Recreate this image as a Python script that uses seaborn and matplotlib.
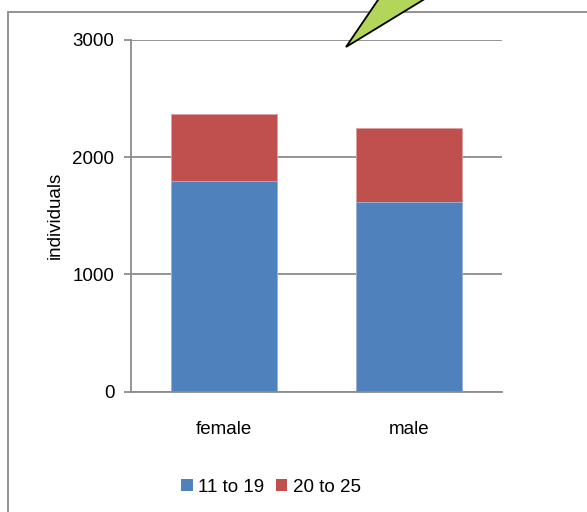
import matplotlib
matplotlib.use("Agg")
import matplotlib.pyplot as plt
import seaborn as sns
import pandas as pd
from matplotlib.patches import Patch, Polygon, Rectangle

# Data: individuals by sex and age group
categories = ["female", "male"]
age_11_19 = [1800, 1620]
age_20_25 = [564, 628]
series_names = ["11 to 19", "20 to 25"]
y_ticks = [0, 1000, 2000, 3000]

BLUE = "#4F81BD"
RED = "#C0504D"
GRID = "#8C8C8C"
FS = 13.5

sns.set_theme(style="white")
plt.rcParams["font.family"] = ["Liberation Sans", "DejaVu Sans"]
plt.rcParams["text.color"] = "black"
plt.rcParams["axes.labelcolor"] = "black"
plt.rcParams["xtick.color"] = "black"
plt.rcParams["ytick.color"] = "black"

W, H = 587, 512
fig = plt.figure(figsize=(W / 100, H / 100), dpi=100)

# outer chart-area frame (continues past the right and bottom edge)
fig.patches.append(Rectangle((8 / W, -0.1), 1.2, 1 - 12 / H + 0.1,
                             transform=fig.transFigure, fill=False,
                             edgecolor="#8A8A8A", linewidth=1.3))

ax = fig.add_axes([131 / W, (H - 391.7) / H, 371 / W, 352 / H])

df = pd.DataFrame({
    "sex": categories,
    "young": age_11_19,
    "total": [a + b for a, b in zip(age_11_19, age_20_25)],
})

# stacked bars: full total in red, lower segment in blue on top
sns.barplot(data=df, x="sex", y="total", color=RED, saturation=1,
            width=0.57, ax=ax, edgecolor="#D9A09E", linewidth=0.6)
sns.barplot(data=df, x="sex", y="young", color=BLUE, saturation=1,
            width=0.57, ax=ax, edgecolor="#9DB7DA", linewidth=0.6)

ax.set_ylim(0, 3000)
ax.set_xlim(-0.5, 1.5)
ax.set_yticks(y_ticks)
ax.set_yticklabels([str(t) for t in y_ticks], fontsize=FS)
ax.yaxis.grid(True, color=GRID, linewidth=1.3)
ax.set_axisbelow(True)
for s in ["top", "right"]:
    ax.spines[s].set_visible(False)
ax.spines["left"].set_color(GRID)
ax.spines["left"].set_linewidth(1.3)
ax.spines["bottom"].set_color(GRID)
ax.spines["bottom"].set_linewidth(1.3)
ax.tick_params(axis="y", left=True, length=5, width=1.3, color=GRID,
               pad=7, labelsize=FS, labelcolor="black")
ax.tick_params(axis="x", bottom=False, pad=15, labelsize=FS,
               labelcolor="black")
ax.set_xlabel("")
ax.set_ylabel("individuals", fontsize=FS, labelpad=6, color="black")

# legend with square swatches
handles = [Patch(facecolor=BLUE, edgecolor="none"),
           Patch(facecolor=RED, edgecolor="none")]
fig.legend(handles, series_names, loc="center",
           bbox_to_anchor=(271 / W, 1 - 487 / H), ncol=2, frameon=False,
           fontsize=FS, handlelength=0.6, handleheight=0.6,
           handletextpad=0.3, columnspacing=0.6, labelcolor="black")

# green callout pointer entering from the top
pts = [(346, 47), (391.6, -20), (455.8, -20)]
fig.patches.append(Polygon([(x / W, 1 - y / H) for x, y in pts],
                           closed=True, transform=fig.transFigure,
                           facecolor="#B3D65A", edgecolor="black",
                           linewidth=1.3, zorder=5))

fig.savefig("out.png", dpi=100)
